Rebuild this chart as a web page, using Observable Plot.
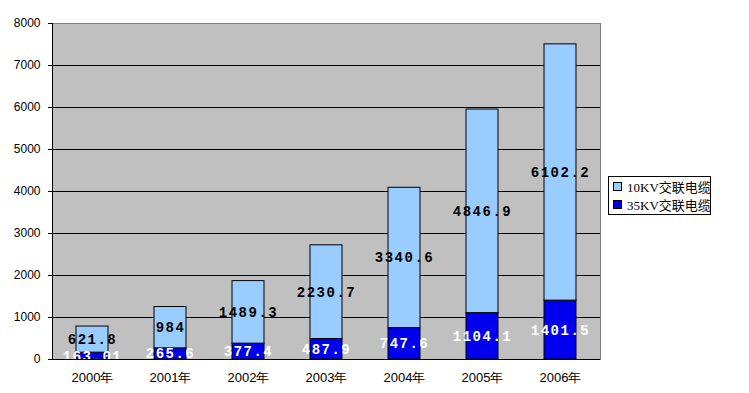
<!DOCTYPE html>
<html><head><meta charset="utf-8">
<script src="https://cdn.jsdelivr.net/npm/d3@7"></script>
<script src="https://cdn.jsdelivr.net/npm/@observablehq/plot@0.6"></script>
<style>
body{margin:0;background:#fff;}
#wrap{position:relative;width:749px;height:393px;}
#legend{position:absolute;left:608px;top:176px;width:101px;height:37px;border:1px solid #000;background:#fff;font:13px "Liberation Serif","Noto Sans CJK SC",serif;white-space:nowrap;}
#legend div{display:flex;align-items:center;height:18px;padding-left:4px;}
#legend span.sw{display:inline-block;width:7px;height:7px;border:1px solid #000;margin-right:5px;flex:none;}
</style></head>
<body><div id="wrap"></div>
<script>
const years = ["2000年","2001年","2002年","2003年","2004年","2005年","2006年"];
const kv35 = [163.01, 265.6, 377.4, 487.9, 747.6, 1104.1, 1401.5];
const kv10 = [621.8, 984, 1489.3, 2230.7, 3340.6, 4846.9, 6102.2];
const seriesNames = ["35KV交联电缆", "10KV交联电缆"];
const seriesColors = ["#0000EE", "#99CCFF"];
const labelColors = ["#ffffff", "#000000"];
const yTicks = [0,1000,2000,3000,4000,5000,6000,7000,8000];

const data = years.flatMap((y, i) => [
  {year: y, series: seriesNames[0], value: kv35[i]},
  {year: y, series: seriesNames[1], value: kv10[i]}
]);

const chart = Plot.plot({
  width: 749, height: 393,
  marginLeft: 52, marginRight: 149, marginTop: 23, marginBottom: 34,
  style: {background: "#fff", fontFamily: "Liberation Sans, Arial, sans-serif", fontSize: "12px", color: "#000"},
  x: {domain: years, label: null, paddingInner: 0.59, paddingOuter: 0.295},
  y: {domain: [0, 8000], label: null},
  color: {domain: seriesNames, range: seriesColors},
  marks: [
    Plot.frame({fill: "#C0C0C0", stroke: "#808080"}),
    Plot.ruleY(yTicks.filter(t => t > 0 && t < 8000), {stroke: "#000", strokeWidth: 1}),
    Plot.barY(data, {x: "year", y: "value", fill: "series", stroke: "#000", strokeWidth: 1, order: seriesNames}),
    Plot.text(data, Plot.stackY({x: "year", y: "value", z: "series", order: seriesNames,
      text: d => String(d.value),
      fill: d => labelColors[seriesNames.indexOf(d.series)],
      fontWeight: "bold", fontSize: 14, fontFamily: "Liberation Mono, DejaVu Sans Mono, monospace"})),
    Plot.frame({anchor: "left", stroke: "#000"}),
    Plot.ruleY([0], {stroke: "#000"}),
    Plot.axisY({ticks: yTicks, tickFormat: d => String(d), tickSize: 4, tickPadding: 8, label: null}),
    Plot.axisX({tickSize: 0, tickPadding: 13, label: null, fontSize: 13})
  ]
});
d3.select(chart).selectAll("g[aria-label='text'] text").style("letter-spacing", "1.5px");
const wrap = document.getElementById("wrap");
wrap.appendChild(chart);
const leg = document.createElement("div");
leg.id = "legend";
[1, 0].forEach(i => {
  const row = document.createElement("div");
  row.innerHTML = `<span class="sw" style="background:${seriesColors[i]}"></span><span>${seriesNames[i]}</span>`;
  leg.appendChild(row);
});
wrap.appendChild(leg);
</script></body></html>
